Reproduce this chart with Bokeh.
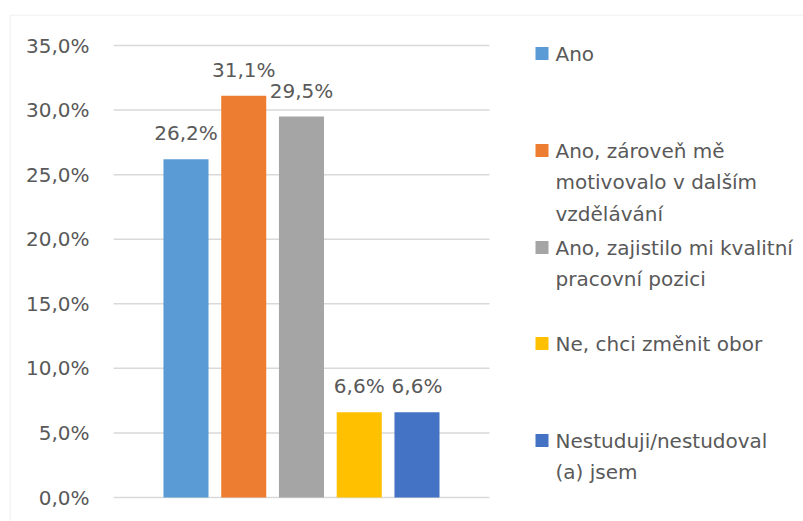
from bokeh.plotting import figure
from bokeh.models import (ColumnDataSource, Range1d, FixedTicker, LabelSet, Label,
                          BoxAnnotation)
from bokeh.core.properties import value
from bokeh.embed import file_html
from bokeh.resources import INLINE

# ---- data ----
categories = ["Ano",
              "Ano, zároveň mě\nmotivovalo v dalším\nvzdělávání",
              "Ano, zajistilo mi kvalitní\npracovní pozici",
              "Ne, chci změnit obor",
              "Nestuduji/nestudoval\n(a) jsem"]
values = [26.2, 31.1, 29.5, 6.6, 6.6]
value_labels = ["26,2%", "31,1%", "29,5%", "6,6%", "6,6%"]
colors = ["#5B9BD5", "#ED7D31", "#A5A5A5", "#FFC000", "#4472C4"]
y_ticks = [0, 5, 10, 15, 20, 25, 30, 35]
y_tick_labels = ["0,0%", "5,0%", "10,0%", "15,0%", "20,0%", "25,0%", "30,0%", "35,0%"]

FONT = "DejaVu Sans"
TXT = "#595959"
GRID = "#D9D9D9"
FS = "20px"

W, H = 803, 521
# plot-area extent in data units
X0, X1 = -1.255, 5.255

src = ColumnDataSource(dict(x=list(range(len(values))), top=values,
                            color=colors, label=value_labels))
grid_src = ColumnDataSource(dict(y=y_ticks, x0=[X0] * len(y_ticks), x1=[X1] * len(y_ticks)))

p = figure(width=W, height=H, output_backend="svg", toolbar_location=None,
           x_range=Range1d(-3.212, 10.693), y_range=Range1d(-1.858, 38.485),
           min_border=0)
p.min_border_left = 0
p.min_border_right = 0
p.min_border_top = 0
p.min_border_bottom = 0
p.outline_line_color = None
p.xaxis.visible = False
p.xgrid.visible = False
p.ygrid.visible = False

ax = p.yaxis[0]
ax.fixed_location = X0
ax.ticker = FixedTicker(ticks=y_ticks)
ax.major_label_overrides = {t: l for t, l in zip(y_ticks, y_tick_labels)}
ax.axis_line_color = None
ax.major_tick_line_color = None
ax.minor_tick_line_color = None
ax.major_tick_out = 0
ax.major_tick_in = 0
ax.major_label_standoff = 24
ax.major_label_text_font = FONT
ax.major_label_text_font_size = FS
ax.major_label_text_color = TXT

# horizontal gridlines across the plot area
p.segment(x0="x0", y0="y", x1="x1", y1="y", source=grid_src,
          line_color=GRID, line_width=1.5)

p.vbar(x="x", top="top", width=0.78, color="color", line_color=None, source=src)

p.add_layout(LabelSet(x="x", y="top", text="label", source=src, text_align="center",
                      text_baseline="alphabetic", y_offset=19, text_font=value(FONT),
                      text_font_size=FS, text_color=TXT))

# chart border (left and top visible)
p.add_layout(BoxAnnotation(left=9.75, right=W + 10, top=14.75, bottom=H + 10,
                           left_units="canvas", right_units="canvas",
                           top_units="canvas", bottom_units="canvas",
                           fill_color=None, fill_alpha=0, line_color=GRID, line_width=1.5))

# legend
item_y = [53, 150, 247, 343, 440]
for name, col, yy in zip(categories, colors, item_y):
    p.add_layout(BoxAnnotation(left=535, right=548, top=yy - 6.5, bottom=yy + 6.5,
                               left_units="canvas", right_units="canvas",
                               top_units="canvas", bottom_units="canvas",
                               fill_color=col, fill_alpha=1, line_color=None))
    p.add_layout(Label(x=555, y=yy - 12, x_units="canvas", y_units="canvas", text=name,
                       text_baseline="top", text_align="left", text_font=FONT,
                       text_font_size=FS, text_color=TXT, text_line_height=1.32))

open("out.html", "w").write(file_html(p, INLINE))
